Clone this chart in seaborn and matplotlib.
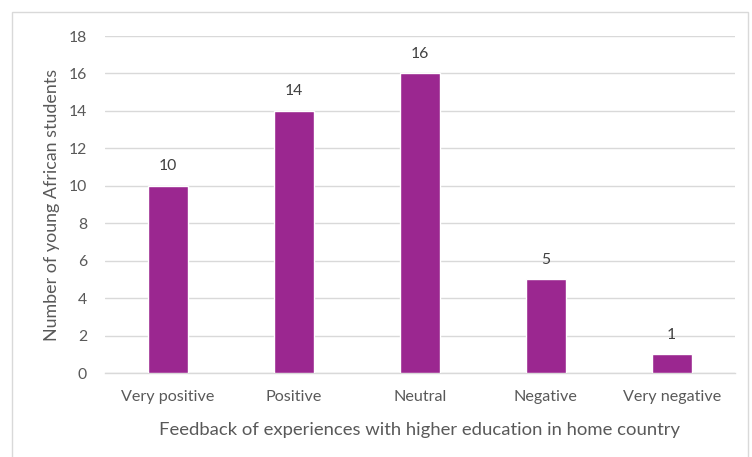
import matplotlib
matplotlib.use("Agg")
import matplotlib.pyplot as plt
import seaborn as sns
import pandas as pd
from matplotlib.patches import Rectangle

categories = ["Very positive", "Positive", "Neutral", "Negative", "Very negative"]
counts = [10, 14, 16, 5, 1]
y_ticks = [0, 2, 4, 6, 8, 10, 12, 14, 16, 18]

df = pd.DataFrame({"feedback": categories, "count": counts})

sns.set_theme(style="white")
plt.rcParams["font.family"] = ["Lato", "DejaVu Sans"]

fig = plt.figure(figsize=(7.52, 4.57), dpi=100)
ax = fig.add_axes([0.1396, 0.1838, 0.8374, 0.7374])

bar_color = "#9B2790"
sns.barplot(data=df, x="feedback", y="count", color=bar_color, width=0.32,
            saturation=1, ax=ax, zorder=3)

ax.set_ylim(0, 18)
ax.set_yticks(y_ticks)
ax.set_xlim(-0.5, len(categories) - 0.5)
ax.grid(axis="y", color="#d9d9d9", linewidth=1, zorder=0)
for s in ["top", "right", "left"]:
    ax.spines[s].set_visible(False)
ax.spines["bottom"].set_color("#d9d9d9")
ax.spines["bottom"].set_linewidth(1)
ax.tick_params(axis="x", length=0, labelsize=11.6, labelcolor="#595959", pad=12)
ax.tick_params(axis="y", length=0, labelsize=11.3, labelcolor="#595959", pad=13)

for i, v in enumerate(counts):
    ax.annotate(str(v), (i, v), xytext=(0, 9), textcoords="offset points",
                ha="center", va="bottom", fontsize=11.3, color="#404040")

ax.set_xlabel("Feedback of experiences with higher education in home country",
              fontsize=13.3, color="#595959")
ax.set_ylabel("Number of young African students", fontsize=12.9,
              color="#595959")
ax.xaxis.set_label_coords(0.5, -0.17)
ax.yaxis.set_label_coords(-0.084, 0.5)
ax.xaxis.label.set_va("center")
ax.yaxis.label.set_va("center")

fig.patches.append(Rectangle((12 / 752, -0.05), 736 / 752, 1 - 12 / 457 + 0.05,
                             transform=fig.transFigure, fill=False,
                             edgecolor="#d9d9d9", linewidth=1))

fig.savefig("out.png", dpi=100, facecolor="white")
